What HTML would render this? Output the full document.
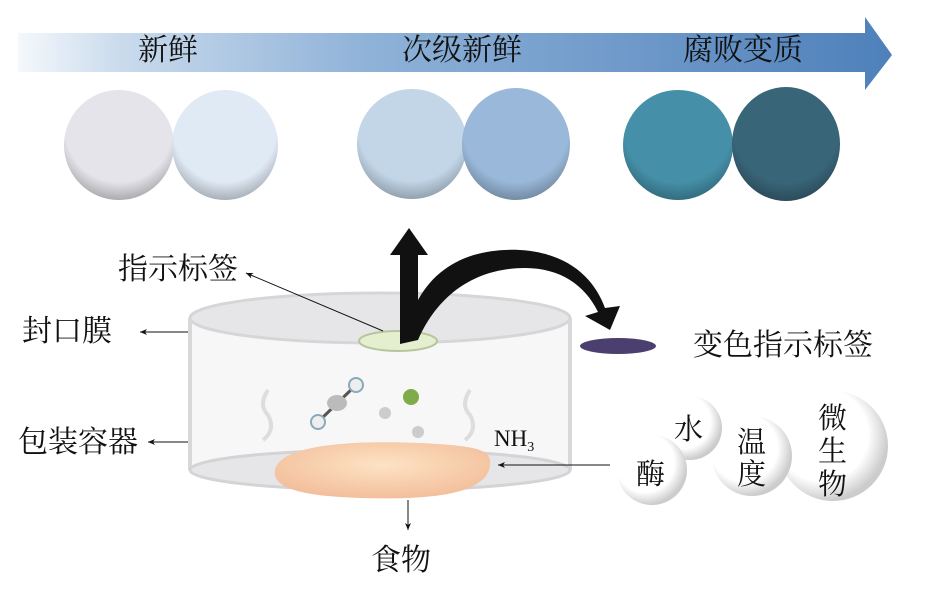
<!DOCTYPE html>
<html><head><meta charset="utf-8"><style>
body{margin:0;background:#fff;width:928px;height:584px;overflow:hidden}
text{font-family:"Liberation Serif","Noto Serif CJK SC",serif;fill:#111}
</style></head><body>
<svg width="928" height="584" viewBox="0 0 928 584" xmlns="http://www.w3.org/2000/svg">
<defs>
<linearGradient id="band" x1="0" x2="1" y1="0" y2="0">
<stop offset="0" stop-color="#f4f8fc"/><stop offset="0.12" stop-color="#c9daec"/><stop offset="0.4" stop-color="#8fb2d8"/><stop offset="1" stop-color="#4e80ba"/>
</linearGradient>
<radialGradient id="sh" cx="0.5" cy="0.35" r="0.65"><stop offset="0.75" stop-color="#000" stop-opacity="0"/><stop offset="1" stop-color="#000" stop-opacity="0.25"/></radialGradient>
<radialGradient id="bub" cx="0.4" cy="0.4" r="0.6"><stop offset="0.7" stop-color="#fff"/><stop offset="1" stop-color="#ccc"/></radialGradient>
<radialGradient id="food" cx="0.5" cy="0.4" r="0.6"><stop offset="0" stop-color="#fde3c4"/><stop offset="1" stop-color="#f3bf9c"/></radialGradient>
<marker id="ah" markerWidth="8" markerHeight="8" refX="7" refY="4" orient="auto"><path d="M0,1 L7,4 L0,7 L2,4z" fill="#111"/></marker>
</defs>
<path d="M18,33 H865 V17 L892,55 L865,90 V72 H18 Z" fill="url(#band)"/>
<text x="138" y="60" font-size="30">新鲜</text>
<text x="402" y="60" font-size="30">次级新鲜</text>
<text x="683" y="60" font-size="30">腐败变质</text>
<g>
<ellipse cx="119" cy="145" rx="55" ry="55" fill="#e4e4ea"/><ellipse cx="119" cy="145" rx="55" ry="55" fill="url(#sh)"/>
<ellipse cx="225" cy="145" rx="53" ry="55" fill="#e0eaf5"/><ellipse cx="225" cy="145" rx="53" ry="55" fill="url(#sh)"/>
<ellipse cx="412" cy="144" rx="55" ry="55" fill="#c2d6e8"/><ellipse cx="412" cy="144" rx="55" ry="55" fill="url(#sh)"/>
<ellipse cx="516" cy="144" rx="54" ry="56" fill="#9ab9da"/><ellipse cx="516" cy="144" rx="54" ry="56" fill="url(#sh)"/>
<ellipse cx="678" cy="145" rx="55" ry="55" fill="#4590a8"/><ellipse cx="678" cy="145" rx="55" ry="55" fill="url(#sh)"/>
<ellipse cx="786" cy="144" rx="54" ry="57" fill="#396579"/><ellipse cx="786" cy="144" rx="54" ry="57" fill="url(#sh)"/>
</g>
<!-- container -->
<rect x="190" y="318" width="380" height="152" fill="#f7f7f8"/>
<ellipse cx="380" cy="318" rx="190" ry="25" fill="#e6e6e8" stroke="#d6d6d8" stroke-width="3"/>
<path d="M190,318 V470 M570,318 V470" stroke="#d8d8da" stroke-width="4"/>
<ellipse cx="380" cy="470" rx="190" ry="20" fill="#e6e6e8" stroke="#d4d4d6" stroke-width="3"/>
<ellipse cx="398" cy="341" rx="39" ry="10" fill="#e3efcf" stroke="#b8c49e" stroke-width="2"/>
<ellipse cx="618" cy="346" rx="38" ry="8" fill="#4a3f6e"/>
<!-- black arrows -->
<path d="M400,344 V255 H390 L409,228 L428,255 H418 V300 C440,260 480,248 520,250 C570,253 595,280 605,308 L620,306 L610,330 L585,316 L598,312 C585,285 560,268 525,268 C480,268 440,290 418,340 Z" fill="#111"/>
<!-- molecules -->
<path d="M268,390 q-10,15 0,25 q8,15 -5,25 M470,390 q-10,15 0,25 q8,15 -5,25" stroke="#ddd" stroke-width="4" fill="none"/>
<line x1="318" y1="422" x2="356" y2="385" stroke="#555" stroke-width="3"/>
<circle cx="318" cy="422" r="7" fill="#eee" stroke="#8ab" stroke-width="2"/><circle cx="356" cy="385" r="7" fill="#eee" stroke="#8ab" stroke-width="2"/>
<ellipse cx="337" cy="403" rx="10" ry="8" fill="#bbb"/>
<circle cx="411" cy="397" r="8" fill="#7fab4a"/><circle cx="385" cy="413" r="6" fill="#ccc"/><circle cx="418" cy="432" r="6" fill="#ccc"/>
<!-- food -->
<path d="M275,470 C280,445 350,440 420,443 C480,446 492,450 490,465 C487,495 430,500 360,498 C300,496 272,488 275,470 Z" fill="url(#food)"/>
<text x="494" y="446" font-size="23">NH<tspan font-size="14" dy="5">3</tspan></text>
<!-- bubbles -->
<circle cx="833" cy="446" r="55" fill="url(#bub)"/>
<circle cx="752" cy="456" r="40" fill="url(#bub)"/>
<circle cx="690" cy="428" r="32" fill="url(#bub)"/>
<circle cx="652" cy="470" r="35" fill="url(#bub)"/>
<text x="674" y="439" font-size="29">水</text>
<text x="636" y="484" font-size="29">酶</text>
<text x="737" y="452" font-size="29">温</text><text x="737" y="484" font-size="29">度</text>
<text x="818" y="428" font-size="29">微</text><text x="818" y="461" font-size="29">生</text><text x="818" y="494" font-size="29">物</text>
<!-- leaders -->
<line x1="610" y1="465" x2="498" y2="465" stroke="#111" stroke-width="1" marker-end="url(#ah)"/>
<line x1="383" y1="331" x2="246" y2="273" stroke="#111" stroke-width="1" marker-end="url(#ah)"/>
<line x1="188" y1="332" x2="140" y2="332" stroke="#111" stroke-width="1" marker-end="url(#ah)"/>
<line x1="188" y1="442" x2="148" y2="442" stroke="#111" stroke-width="1" marker-end="url(#ah)"/>
<line x1="408" y1="500" x2="408" y2="530" stroke="#111" stroke-width="1" marker-end="url(#ah)"/>
<text x="118" y="279" font-size="30">指示标签</text>
<text x="22" y="341" font-size="30">封口膜</text>
<text x="18" y="452" font-size="30">包装容器</text>
<text x="371" y="570" font-size="30">食物</text>
<text x="693" y="355" font-size="30">变色指示标签</text>
</svg>
</body></html>
